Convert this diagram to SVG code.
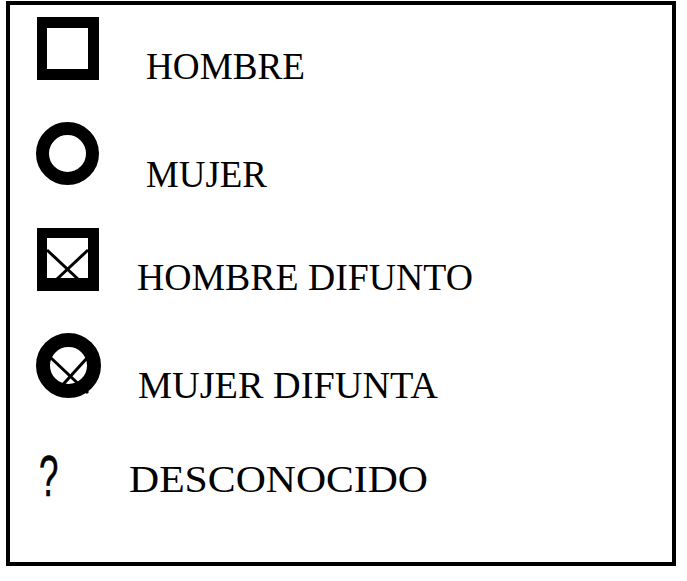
<svg xmlns="http://www.w3.org/2000/svg" width="687" height="581" viewBox="0 0 687 581">
<defs>
<style>
.lbl{font-family:"Liberation Serif","Times New Roman",serif;font-size:37px;fill:#000}
.ring{fill:none;stroke:#000}
.x{stroke:#000;stroke-width:3;stroke-linecap:butt}
</style>
<filter id="soft" x="-20%" y="-20%" width="140%" height="140%"><feGaussianBlur stdDeviation="0.7"/></filter>
</defs>
<rect x="0" y="0" width="687" height="581" fill="#fff"/>
<rect id="frame" x="8" y="3" width="666" height="561" fill="none" stroke="#000" stroke-width="4"/>
<g id="hombre">
<rect x="37" y="17" width="62" height="63" fill="#000"/>
<rect x="47" y="28" width="41" height="41" fill="#fff"/>
<text class="lbl" x="146" y="79" textLength="159" lengthAdjust="spacingAndGlyphs">HOMBRE</text>
</g>
<g id="mujer">
<circle class="ring" cx="67.5" cy="153.5" r="25" stroke-width="13" filter="url(#soft)"/>
<text class="lbl" x="146" y="187" textLength="121" lengthAdjust="spacingAndGlyphs">MUJER</text>
</g>
<g id="hombre-difunto">
<rect x="37" y="228" width="62" height="63" fill="#000"/>
<rect x="47" y="238" width="41" height="40" fill="#fff"/>
<line class="x" x1="47" y1="250" x2="79" y2="280"/>
<line class="x" x1="88" y1="250" x2="56" y2="280"/>
<text class="lbl" x="137" y="290" textLength="336" lengthAdjust="spacingAndGlyphs">HOMBRE DIFUNTO</text>
</g>
<g id="mujer-difunta">
<circle class="ring" cx="68.5" cy="365.5" r="25.5" stroke-width="14" filter="url(#soft)"/>
<line class="x" x1="50" y1="357" x2="88" y2="393"/>
<line class="x" x1="87" y1="358" x2="58" y2="390"/>
<text class="lbl" x="138" y="398" textLength="300" lengthAdjust="spacingAndGlyphs">MUJER DIFUNTA</text>
</g>
<g id="desconocido">
<text transform="translate(42,496) scale(0.6,1)" x="-5" y="0" font-family="Liberation Sans, Arial, sans-serif" font-size="58" fill="#000" stroke="#000" stroke-width="0.6">?</text>
<text class="lbl" x="129" y="492" textLength="299" lengthAdjust="spacingAndGlyphs">DESCONOCIDO</text>
</g>
<g id="connectors"></g>
</svg>
